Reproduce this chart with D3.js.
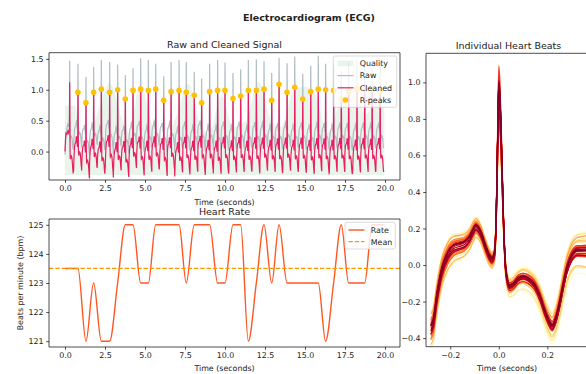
<!DOCTYPE html>
<html><head><meta charset="utf-8">
<script src="https://cdn.jsdelivr.net/npm/d3@7"></script>
<style>body{margin:0;background:#fff}svg{display:block}text{font-family:"DejaVu Sans",sans-serif}</style>
</head><body><svg id="c" width="586" height="374"></svg>
<script>
// ---------------- data ----------------
// R-peak times in seconds (first beat at 0.29 s was not detected)
const peakTimes = [0.29,0.81,1.31,1.79,2.27,2.79,3.29,3.77,4.25,4.73,5.21,5.67,6.17,6.63,7.13,7.58,8.08,8.54,9.04,9.54,10.0,10.5,10.98,11.46,11.96,12.44,12.92,13.38,13.88,14.36,14.86,15.36,15.83,16.29,16.79,17.27,17.73,18.25,18.73,19.2,19.7];
const detected = peakTimes.map((t,i)=>i>0);
// cleaned signal value at each R peak
const cleanPeaks = [1.12,0.96,0.79,0.96,1.01,0.96,1.0,0.85,0.99,1.01,0.99,1.01,0.83,0.97,0.99,0.96,0.91,0.79,0.97,0.99,0.99,0.86,0.90,0.99,0.99,1.01,0.83,1.09,0.96,1.04,0.85,0.97,1.01,1.0,0.99,0.85,0.97,1.01,1.0,1.0,0.97];
// raw signal value at each R peak
const rawPeaks = [1.47,1.42,1.21,1.37,1.48,1.45,1.41,1.24,1.35,1.51,1.48,1.42,1.22,1.45,1.48,1.45,1.29,1.18,1.42,1.48,1.44,1.27,1.33,1.48,1.49,1.46,1.27,1.52,1.43,1.54,1.26,1.39,1.55,1.42,1.4,1.3,1.45,1.5,1.45,1.35,1.45];
// per-beat baseline shift and baseline tilt (per second) around each R peak
const beatShift = [0,0.05,-0.05,0.02,-0.04,0.04,-0.03,-0.05,0.03,0.01,-0.02,0.04,-0.01,0.03,-0.04,0.02,-0.02,0.03,0.0,-0.03,0.02,-0.02,0.02,-0.02,0.01,0.02,-0.01,0.0,0.02,-0.01,0.01,-0.02,0.01,0.0,-0.01,0.01,0.0,-0.01,0.01,0.0,0.01];
const beatTilt  = [0,0.15,-0.2,0.25,0.1,-0.15,0.3,-0.1,0.2,-0.25,0.15,0.05,-0.2,0.1,0.2,-0.1,0.15,-0.15,0.25,0.05,-0.1,0.1,-0.05,0.15,-0.1,0.05,0.1,-0.05,0.05,0.1,-0.05,0.0,0.05,-0.05,0.1,0.0,-0.05,0.05,0.0,0.05,0.0];
// heart rate at each R peak (bpm), index-aligned with peakTimes (first = undetected)
const peakRates = [null,123.5,121,123,121,121,123,125,125,123,123,125,125,125,125,123,125,125,125,123,123,125,125,121,123,125,123,125,123,123,123,123,123,121,123,125,123,123,123,125,125];
const rateMean = 123.5;
const signalEnd = 19.96;
// average heart beat shape (seconds relative to R peak, amplitude)
const beatOffsets = [-0.28,-0.27,-0.255,-0.235,-0.21,-0.185,-0.16,-0.14,-0.12,-0.105,-0.095,-0.085,-0.07,-0.055,-0.04,-0.028,-0.018,-0.01,-0.004,0.0,0.004,0.01,0.018,0.026,0.034,0.045,0.06,0.08,0.1,0.12,0.145,0.17,0.19,0.205,0.22,0.235,0.25,0.265,0.28,0.3,0.325,0.36];
const beatValues  = [-0.34,-0.31,-0.17,-0.03,0.06,0.1,0.11,0.12,0.15,0.19,0.21,0.2,0.16,0.1,0.05,0.03,0.06,0.3,0.75,0.99,0.93,0.7,0.3,0.02,-0.08,-0.12,-0.11,-0.08,-0.07,-0.08,-0.11,-0.18,-0.26,-0.31,-0.34,-0.3,-0.22,-0.12,-0.03,0.04,0.07,0.07];
const beatPeak = 0.99;
// filter start-up of the cleaned / raw signal before the first R peak
const cleanStartT = [0,0.03,0.06,0.12,0.18,0.22,0.26];
const cleanStartV = [0.0,0.2,0.3,0.28,0.33,0.3,0.35];
const rawStartV   = [-0.05,0.1,0.25,0.38,0.44,0.4,0.47];
const rawOffset = 0.3, rawGain = 0.75;
// signal quality (already rescaled to the cleaned signal range)
const qualityTimes  = [0,0.6,1.0,1.4,2.0,2.8,3.6,4.0,4.7,5.5,6.2,7.0,7.7,8.5,9.0,9.8,10.5,11.3,12.1,12.9,13.5,14.3,15.0,15.7,16.4,17.2,18.0,18.8,19.4,19.96];
const qualityValues = [0.74,0.74,0.3,0.1,0.6,1.1,0.5,0.3,1.08,0.4,0.2,0.6,1.1,0.4,0.3,0.9,0.4,0.5,1.12,0.5,0.4,1.0,1.05,0.9,0.3,0.8,1.0,0.6,0.8,0.7];
const qualityMin = -0.38;
// tick values
const timeTicks = [0,2.5,5,7.5,10,12.5,15,17.5,20];
const sigTicks = [0,0.5,1.0,1.5];
const rateTicks = [121,122,123,124,125];
const beatYTicks = [-0.4,-0.2,0,0.2,0.4,0.6,0.8,1.0];
const beatXTicks = [-0.2,0,0.2];

// ---------------- colours ----------------
const C = {raw:"#B0BEC5", clean:"#E91E63", peak:"#FFC107", quality:"#4CAF50", rate:"#FF5722", mean:"#FF9800"};

const svg = d3.select("#c");
const FS = 7.9;

// ---------------- layout ----------------
const A0 = {l:49, r:400, t:52.7, b:180};
const A1 = {l:49, r:400, t:219, b:347};
const A2 = {l:426, r:591, t:53.3, b:346.7};

const x0 = d3.scaleLinear().domain([-1, 20.94]).range([A0.l, A0.r]);
const y0 = d3.scaleLinear().domain([-0.46, 1.6]).range([A0.b, A0.t]);
const x1 = d3.scaleLinear().domain([-1, 20.94]).range([A1.l, A1.r]);
const y1 = d3.scaleLinear().domain([120.8, 125.2]).range([A1.b, A1.t]);
const x2 = d3.scaleLinear().domain([-0.3, 0.38]).range([A2.l, A2.r]);
const y2 = d3.scaleLinear().domain([-0.447, 1.159]).range([A2.b, A2.t]);

const defs = svg.append("defs");
function clip(id, A){ defs.append("clipPath").attr("id",id).append("rect").attr("x",A.l).attr("y",A.t).attr("width",A.r-A.l).attr("height",A.b-A.t); }
clip("k0",A0); clip("k1",A1); clip("k2",A2);

// ---------------- build signals ----------------
const isR = o => o >= -0.012 && o <= 0.02;
function beatValue(k, i, kind){
  const o = beatOffsets[k], v = beatValues[k], s = beatShift[i] + beatTilt[i]*o;
  if (kind === "clean") {
    return isR(o) ? s + v*(cleanPeaks[i]-s)/beatPeak : s + v;
  } else {
    const base = rawOffset + s;
    return isR(o) ? base + v*(rawPeaks[i]-base)/beatPeak : base + rawGain*v;
  }
}
function buildSignal(kind){
  const pts = cleanStartT.map((t,j)=>[t, kind==="clean" ? cleanStartV[j] : rawStartV[j]]);
  peakTimes.forEach((t0,i)=>{
    const lo = i===0 ? -0.012 : (peakTimes[i-1] + 0.22) - t0;
    const hi = i===peakTimes.length-1 ? Math.min(0.22, signalEnd - t0) : 0.22;
    beatOffsets.forEach((o,k)=>{
      if (o > lo + 1e-9 && o <= hi + 1e-9) pts.push([t0+o, beatValue(k,i,kind)]);
    });
  });
  return pts;
}
const cleanSig = buildSignal("clean");
const rawSig = buildSignal("raw");

// ---------------- helpers ----------------
function styleAxis(g){
  g.select(".domain").remove();
  g.selectAll(".tick line").attr("stroke","#000").attr("stroke-width",0.7);
  g.selectAll(".tick text").attr("font-size",FS).attr("fill","#222").attr("font-family","DejaVu Sans");
}
function spines(A, noRight){
  const g = svg.append("g").attr("fill","none").attr("stroke","#000").attr("stroke-width",0.7);
  g.append("line").attr("x1",A.l).attr("x2",A.l).attr("y1",A.t).attr("y2",A.b);
  g.append("line").attr("x1",A.l).attr("x2",A.r).attr("y1",A.b).attr("y2",A.b);
  g.append("line").attr("x1",A.l).attr("x2",A.r).attr("y1",A.t).attr("y2",A.t);
  if(!noRight) g.append("line").attr("x1",A.r).attr("x2",A.r).attr("y1",A.t).attr("y2",A.b);
}
function text(x,y,s,opt={}){
  const t = svg.append("text").attr("x",x).attr("y",y).text(s)
    .attr("font-size",opt.size||FS).attr("fill","#222")
    .attr("text-anchor",opt.anchor||"middle");
  if(opt.bold) t.attr("font-weight","bold");
  if(opt.rotate) t.attr("transform",`rotate(-90,${x},${y})`);
  return t;
}

// ---------------- suptitle ----------------
text(309, 21, "Electrocardiogram (ECG)", {size:9.5, bold:true});

// ---------------- panel 0: raw & cleaned ----------------
const p0 = svg.append("g").attr("clip-path","url(#k0)");
p0.append("path")
  .datum(qualityTimes.map((t,i)=>[t, qualityValues[i]]))
  .attr("fill",C.quality).attr("fill-opacity",0.12)
  .attr("d", d3.area().x(d=>x0(d[0])).y0(y0(qualityMin)).y1(d=>y0(d[1])).curve(d3.curveMonotoneX));
const line0 = d3.line().x(d=>x0(d[0])).y(d=>y0(d[1]));
p0.append("path").datum(rawSig).attr("fill","none").attr("stroke",C.raw).attr("stroke-width",1.2).attr("d",line0);
p0.append("path").datum(cleanSig).attr("fill","none").attr("stroke",C.clean).attr("stroke-width",1.2).attr("d",line0);
p0.selectAll("circle.pk").data(peakTimes.map((t,i)=>({t, v:cleanPeaks[i], d:detected[i]})).filter(d=>d.d))
  .enter().append("circle").attr("class","pk")
  .attr("cx",d=>x0(d.t)).attr("cy",d=>y0(d.v)).attr("r",2.8).attr("fill",C.peak);

svg.append("g").attr("transform",`translate(0,${A0.b})`)
  .call(d3.axisBottom(x0).tickValues(timeTicks).tickFormat(d3.format(".1f")).tickSize(2.8).tickPadding(2.6)).call(styleAxis);
svg.append("g").attr("transform",`translate(${A0.l},0)`)
  .call(d3.axisLeft(y0).tickValues(sigTicks).tickFormat(d3.format(".1f")).tickSize(2.8).tickPadding(2.6)).call(styleAxis);
spines(A0);
text((A0.l+A0.r)/2, 48, "Raw and Cleaned Signal", {size:9.5});
text((A0.l+A0.r)/2, 204.5, "Time (seconds)");

// legend 0
(function(){
  const g = svg.append("g");
  g.append("rect").attr("x",333.3).attr("y",56).attr("width",63.4).attr("height",51.3).attr("rx",2)
    .attr("fill","#fff").attr("fill-opacity",0.8).attr("stroke","#ccc").attr("stroke-width",0.7);
  const hx0 = 337.5, hx1 = 353.5, tx = 359.8;
  const ys = [63.3, 75.6, 87.8, 100.0];
  g.append("rect").attr("x",hx0).attr("y",ys[0]-2.8).attr("width",hx1-hx0).attr("height",5.6).attr("fill",C.quality).attr("fill-opacity",0.12);
  g.append("line").attr("x1",hx0).attr("x2",hx1).attr("y1",ys[1]).attr("y2",ys[1]).attr("stroke",C.raw).attr("stroke-width",1.2);
  g.append("line").attr("x1",hx0).attr("x2",hx1).attr("y1",ys[2]).attr("y2",ys[2]).attr("stroke",C.clean).attr("stroke-width",1.2);
  g.append("circle").attr("cx",(hx0+hx1)/2).attr("cy",ys[3]).attr("r",2.8).attr("fill",C.peak);
  ["Quality","Raw","Cleaned","R-peaks"].forEach((s,i)=>{
    g.append("text").attr("x",tx).attr("y",ys[i]+2.8).attr("font-size",FS).attr("fill","#222").text(s);
  });
})();

// ---------------- panel 1: heart rate ----------------
const ratePts = [[0, peakRates[1]]];
peakTimes.forEach((t,i)=>{ if(detected[i]) ratePts.push([t, peakRates[i]]); });
ratePts.push([signalEnd, peakRates[peakRates.length-1]]);
const p1 = svg.append("g").attr("clip-path","url(#k1)");
p1.append("path").datum(ratePts).attr("fill","none").attr("stroke",C.rate).attr("stroke-width",1.4)
  .attr("d", d3.line().x(d=>x1(d[0])).y(d=>y1(d[1])).curve(d3.curveMonotoneX));
p1.append("line").attr("x1",A1.l).attr("x2",A1.r).attr("y1",y1(rateMean)).attr("y2",y1(rateMean))
  .attr("stroke",C.mean).attr("stroke-width",1.3).attr("stroke-dasharray","4.4,1.9");

svg.append("g").attr("transform",`translate(0,${A1.b})`)
  .call(d3.axisBottom(x1).tickValues(timeTicks).tickFormat(d3.format(".1f")).tickSize(2.8).tickPadding(2.6)).call(styleAxis);
svg.append("g").attr("transform",`translate(${A1.l},0)`)
  .call(d3.axisLeft(y1).tickValues(rateTicks).tickFormat(d3.format("d")).tickSize(2.8).tickPadding(2.6)).call(styleAxis);
spines(A1);
text((A1.l+A1.r)/2, 214.5, "Heart Rate", {size:9.5});
text((A1.l+A1.r)/2, 371, "Time (seconds)");
text(22.5, (A1.t+A1.b)/2, "Beats per minute (bpm)", {rotate:true});

// legend 1
(function(){
  const g = svg.append("g");
  g.append("rect").attr("x",345).attr("y",222.3).attr("width",50.3).attr("height",26.7).attr("rx",2)
    .attr("fill","#fff").attr("fill-opacity",0.8).attr("stroke","#ccc").attr("stroke-width",0.7);
  const hx0 = 348.5, hx1 = 364.5, tx = 370.8;
  g.append("line").attr("x1",hx0).attr("x2",hx1).attr("y1",230).attr("y2",230).attr("stroke",C.rate).attr("stroke-width",1.4);
  g.append("line").attr("x1",hx0).attr("x2",hx1).attr("y1",241.7).attr("y2",241.7).attr("stroke",C.mean).attr("stroke-width",1.3).attr("stroke-dasharray","4.4,1.9");
  g.append("text").attr("x",tx).attr("y",232.8).attr("font-size",FS).attr("fill","#222").text("Rate");
  g.append("text").attr("x",tx).attr("y",244.5).attr("font-size",FS).attr("fill","#222").text("Mean");
})();

// ---------------- panel 2: individual heart beats ----------------
const beatIdx = peakTimes.map((t,i)=>i).filter(i=>detected[i]);
const p2 = svg.append("g").attr("clip-path","url(#k2)");
const line2 = d3.line().x(d=>x2(d[0])).y(d=>y2(d[1])).curve(d3.curveMonotoneX);
beatIdx.forEach((i,j)=>{
  const pts = beatOffsets.map((o,k)=>[o, beatValue(k,i,"clean")]);
  p2.append("path").datum(pts).attr("fill","none")
    .attr("stroke", d3.interpolateYlOrRd(j/(beatIdx.length-1))).attr("stroke-width",1.2).attr("d",line2);
});
svg.append("g").attr("transform",`translate(0,${A2.b})`)
  .call(d3.axisBottom(x2).tickValues(beatXTicks).tickFormat(d3.format(".1f")).tickSize(2.8).tickPadding(2.6)).call(styleAxis);
svg.append("g").attr("transform",`translate(${A2.l},0)`)
  .call(d3.axisLeft(y2).tickValues(beatYTicks).tickFormat(d3.format(".1f")).tickSize(2.8).tickPadding(2.6)).call(styleAxis);
spines(A2, true);
text((A2.l+A2.r)/2, 48.5, "Individual Heart Beats", {size:9.5});
text(507, 371, "Time (seconds)");
</script></body></html>
